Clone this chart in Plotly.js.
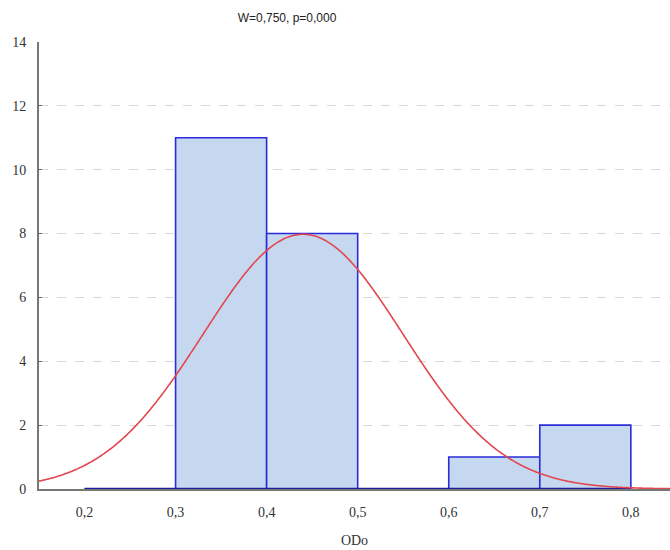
<!DOCTYPE html>
<html>
<head>
<meta charset="utf-8">
<script src="https://cdn.plot.ly/plotly-3.0.1.min.js"></script>
<style>html,body{margin:0;padding:0;background:#fff;}#chart{width:670px;height:550px;}</style>
</head>
<body>
<div id="chart"></div>
<script>
// Histogram bins (lower edges), bin width and counts
const binEdges = [0.2, 0.3, 0.4, 0.5, 0.6, 0.7, 0.8];
const counts = [0, 11, 8, 0, 1, 2];
const binWidth = 0.1;
// Fitted normal parameters
const fitMean = 0.44;
const fitSd = 0.11;
const nObs = 22;
const xTicks = [0.2, 0.3, 0.4, 0.5, 0.6, 0.7, 0.8];
const yTicks = [0, 2, 4, 6, 8, 10, 12, 14];
const titleText = "W=0,750, p=0,000";
const xTitle = "ODo";

const centers = counts.map((c, i) => (binEdges[i] + binEdges[i + 1]) / 2);

// Normal curve
const xMin = 0.15, xMax = 0.843;
const cx = [], cy = [];
for (let k = 0; k <= 400; k++) {
  const x = xMin + (xMax - xMin) * k / 400;
  const z = (x - fitMean) / fitSd;
  cx.push(x);
  cy.push(nObs * binWidth * Math.exp(-0.5 * z * z) / (fitSd * Math.sqrt(2 * Math.PI)));
}

const serif = '"Liberation Serif", "Times New Roman", "DejaVu Serif", serif';

const traces = [
  {
    type: 'bar', x: centers, y: counts, width: binWidth,
    marker: {color: '#c6d8f0', line: {color: '#2b2bdc', width: 1.6}},
    hoverinfo: 'skip'
  },
  {
    type: 'scatter', mode: 'lines',
    x: [binEdges[0], binEdges[binEdges.length - 1]], y: [0, 0],
    line: {color: '#1c1c9c', width: 2.5}, hoverinfo: 'skip'
  },
  {
    type: 'scatter', mode: 'lines', x: cx, y: cy,
    line: {color: '#e2474f', width: 1.6, shape: 'spline', smoothing: 0.6}, hoverinfo: 'skip'
  }
];

const layout = {
  width: 670, height: 550,
  margin: {l: 39, r: 0, t: 42, b: 61},
  paper_bgcolor: '#fff', plot_bgcolor: '#fff',
  showlegend: false,
  separators: ',.',
  bargap: 0,
  title: {
    text: titleText, font: {family: '"Liberation Sans", Arial, sans-serif', size: 12, color: '#222'},
    x: 287 / 670, xref: 'container', xanchor: 'center',
    y: 1 - 18 / 550, yref: 'container', yanchor: 'middle'
  },
  xaxis: {
    range: [xMin, xMax],
    tickvals: xTicks, tickformat: '.1f',
    ticks: '', showgrid: false, zeroline: false,
    showline: true, linecolor: '#777', linewidth: 2,
    ticklabelstandoff: 9,
    tickfont: {family: serif, size: 14, color: '#333'},
    title: {text: xTitle, font: {family: serif, size: 14, color: '#333'}, standoff: 16}
  },
  yaxis: {
    range: [0, 14],
    tickvals: yTicks,
    ticks: 'inside', ticklen: 3, tickcolor: '#666',
    showgrid: true, gridcolor: '#d8d8d8', griddash: 'dash', gridwidth: 1,
    zeroline: false,
    showline: true, linecolor: '#777', linewidth: 2,
    ticklabelstandoff: 8,
    tickfont: {family: serif, size: 14, color: '#333'}
  }
};

Plotly.newPlot('chart', traces, layout, {displayModeBar: false, staticPlot: true});
</script>
</body>
</html>
